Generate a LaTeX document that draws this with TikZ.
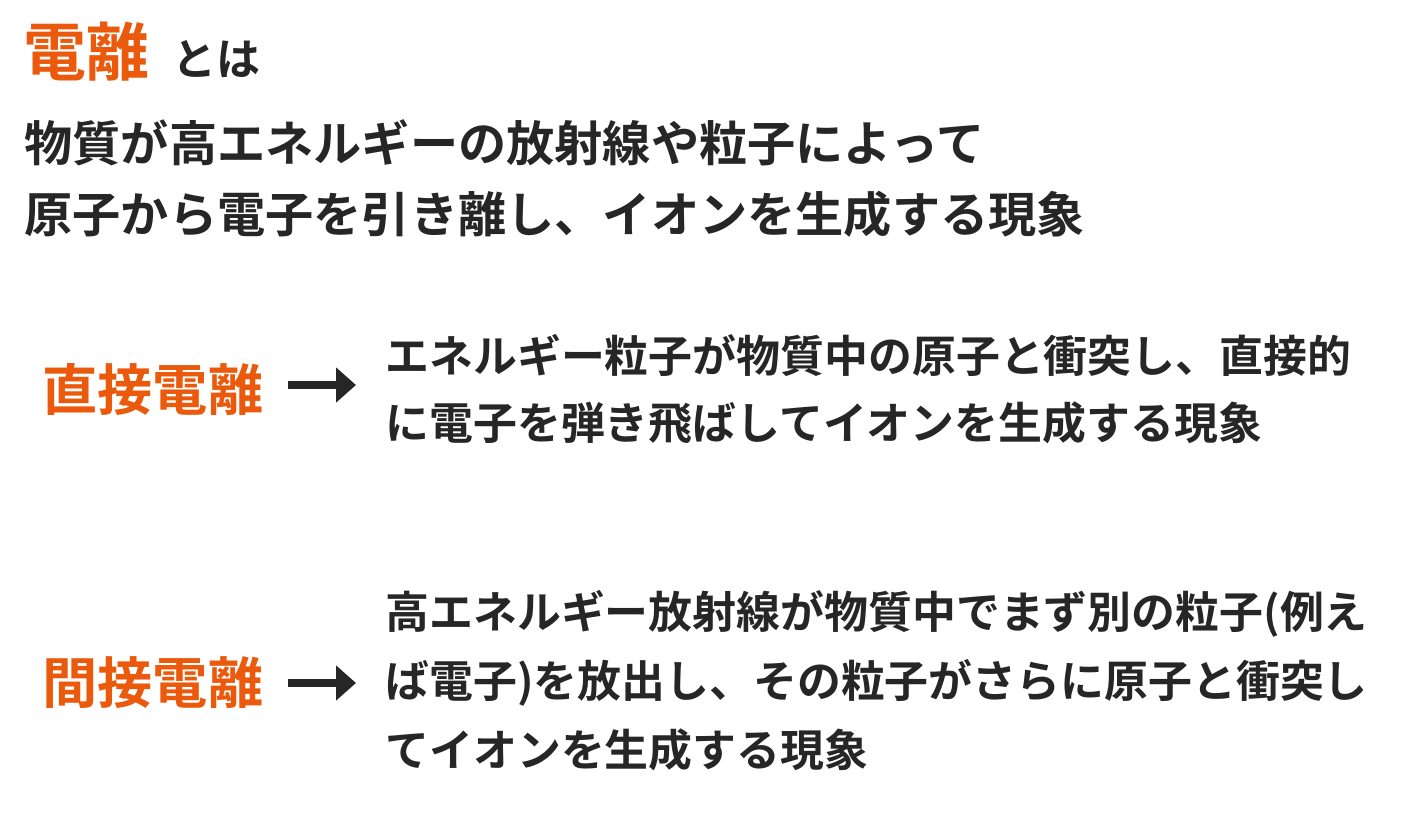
\documentclass[tikz,border=0pt]{standalone}
\usepackage{fontspec}
\setmainfont{Noto Sans CJK JP}[BoldFont={Noto Sans CJK JP Bold}]
\usetikzlibrary{arrows.meta}
\definecolor{org}{HTML}{EB5A0C}
\definecolor{ink}{HTML}{262626}
\begin{document}
\begin{tikzpicture}[x=0.5pt,y=-0.5pt,
  body/.style={anchor=west,inner sep=0,text=ink,font=\bfseries\fontsize{24.1pt}{28pt}\selectfont},
  desc/.style={anchor=west,inner sep=0,text=ink,font=\bfseries\fontsize{21.95pt}{26pt}\selectfont},
  lab/.style={anchor=west,inner sep=0,text=org,font=\bfseries\fontsize{27.6pt}{30pt}\selectfont},
  arr/.style={draw=ink,line width=4pt,-{Triangle[length=10pt,width=17pt]}}]
\useasboundingbox (0,0) rectangle (1428,820);
\node[anchor=west,inner sep=0,text=org,font=\bfseries\fontsize{31.5pt}{34pt}\selectfont] (t) at (23,52) {電離};
\node[anchor=base west,inner sep=0,text=ink,font=\bfseries\fontsize{22pt}{24pt}\selectfont] (t2) at ([xshift=11pt]t.base east) {とは};
\node[body] (l1) at (24,143) {物質が高エネルギーの放射線や粒子によって};
\node[body] (l2) at (24,214) {原子から電子を引き離し、イオンを生成する現象};
\node[lab] (d) at (42,389) {直接電離};
\coordinate (da) at (288,385); \coordinate (db) at (356,385);
\draw[arr] (da) -- (db);
\node[desc] (d1) at (385,355) {エネルギー粒子が物質中の原子と衝突し、直接的};
\node[desc] (d2) at (385,423) {に電子を弾き飛ばしてイオンを生成する現象};
\node[lab] (i) at (42,683) {間接電離};
\coordinate (ia) at (288,683); \coordinate (ib) at (356,683);
\draw[arr] (ia) -- (ib);
\node[desc] (i1) at (385,614) {高エネルギー放射線が物質中でまず別の粒子(例え};
\node[desc] (i2) at (385,683) {ば電子)を放出し、その粒子がさらに原子と衝突し};
\node[desc] (i3) at (385,750) {てイオンを生成する現象};
\end{tikzpicture}
\end{document}
